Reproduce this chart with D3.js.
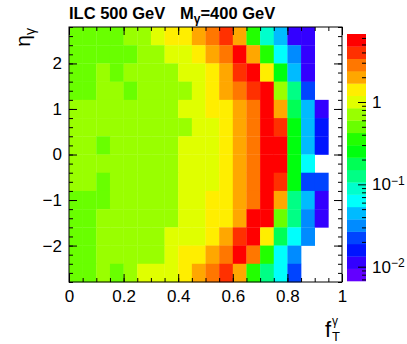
<!DOCTYPE html>
<html>
<head>
<meta charset="utf-8">
<script src="https://cdn.jsdelivr.net/npm/d3@7"></script>
<style>
	body { margin: 0; background: #fff; }
	svg { display: block; }
</style>
</head>
<body>
<div id="chart"></div>
<script>

// bin lower edges: 20 bins in f_T, 14 bins in eta (top row first)
var fTBins = [0, 0.05, 0.1, 0.15, 0.2, 0.25, 0.3, 0.35, 0.4, 0.45, 0.5, 0.55, 0.6, 0.65, 0.7, 0.75, 0.8, 0.85, 0.9, 0.95];
var fTWidth = 0.05;
var etaBins = [2.4, 2.0, 1.6, 1.2, 0.8, 0.4, 0, -0.4, -0.8, -1.2, -1.6, -2.0, -2.4, -2.8];
var etaWidth = 0.4;

// bin contents (0 = empty bin)
var counts = [
	[0.5, 0.5, 0.5, 0.5, 0.71, 0.71, 1.0, 1.4, 1.4, 2.0, 2.8, 4.0, 2.0, 0.36, 0.089, 0.045, 0.011, 0.011, 0, 0],
	[0.5, 0.5, 0.5, 0.5, 0.5, 0.71, 0.71, 1.0, 1.0, 1.4, 2.0, 2.8, 5.6, 2.0, 0.36, 0.063, 0.032, 0.011, 0, 0],
	[0.5, 0.5, 0.71, 0.5, 0.71, 0.71, 0.71, 0.71, 1.0, 1.0, 1.4, 2.0, 4.0, 5.6, 1.4, 0.25, 0.045, 0.011, 0, 0],
	[0.5, 0.5, 0.71, 0.71, 0.5, 0.71, 0.71, 0.71, 0.71, 1.0, 1.4, 2.0, 2.8, 4.0, 5.6, 0.71, 0.13, 0.022, 0, 0],
	[0.71, 0.71, 0.71, 0.71, 0.71, 0.71, 0.71, 0.71, 1.0, 1.0, 1.4, 1.4, 2.0, 2.8, 5.6, 2.0, 0.18, 0.045, 0.011, 0],
	[0.71, 0.71, 0.71, 0.71, 0.71, 0.71, 0.71, 0.71, 0.71, 1.0, 1.0, 1.4, 2.0, 2.8, 5.6, 4.0, 0.25, 0.045, 0.016, 0],
	[0.71, 0.71, 0.5, 0.71, 0.71, 0.71, 0.71, 0.71, 1.0, 1.0, 1.0, 1.4, 2.0, 2.8, 5.6, 5.6, 0.25, 0.045, 0.016, 0],
	[0.71, 0.71, 0.71, 0.71, 0.71, 0.71, 0.71, 0.71, 1.0, 1.0, 1.0, 1.4, 2.0, 2.8, 5.6, 5.6, 0.25, 0.063, 0, 0],
	[0.71, 0.71, 0.5, 0.71, 0.71, 0.71, 0.71, 0.71, 1.0, 1.0, 1.0, 1.4, 2.0, 2.8, 5.6, 4.0, 0.25, 0.022, 0.022, 0],
	[0.5, 0.5, 0.5, 0.71, 0.71, 0.71, 0.71, 0.71, 1.0, 1.0, 1.4, 1.4, 2.0, 2.8, 5.6, 2.0, 0.13, 0.045, 0.011, 0],
	[0.5, 0.5, 0.71, 0.71, 0.71, 0.71, 0.71, 0.71, 1.0, 1.0, 1.4, 1.4, 2.0, 5.6, 5.6, 0.5, 0.13, 0.032, 0.011, 0],
	[0.5, 0.5, 0.71, 0.71, 0.71, 0.71, 0.71, 1.0, 1.0, 1.0, 1.4, 2.0, 4.0, 5.6, 1.4, 0.18, 0.063, 0.032, 0, 0],
	[0.5, 0.5, 0.71, 0.71, 0.71, 0.71, 0.71, 1.0, 1.4, 1.4, 2.0, 2.8, 5.6, 2.8, 0.36, 0.063, 0.032, 0, 0, 0],
	[0.5, 0.5, 0.71, 0.5, 0.71, 1.0, 1.0, 1.0, 1.4, 2.0, 2.8, 4.0, 2.0, 0.36, 0.13, 0.063, 0.022, 0, 0, 0]
];

// axis ticks
var xTicks = [0, 0.2, 0.4, 0.6, 0.8, 1];
var yTicks = [-2, -1, 0, 1, 2];
var zTicks = [0.01, 0.1, 1];
var zLabels = [["10", "\u22122"], ["10", "\u22121"], ["1", ""]];
var zMin = 0.0067, zMax = 6.7;

var font = "'Liberation Sans', Arial, Helvetica, sans-serif";
var W = 407, H = 344;
var frame = { left: 69, right: 342, top: 27, bottom: 282 };
var zBar = { left: 347, right: 366, top: 34, bottom: 281 };
var nContours = 20;

var svg = d3.select("#chart").append("svg")
	.attr("width", W)
	.attr("height", H)
	.style("background", "#fff");

var x = d3.scaleLinear().domain([0, 1]).range([frame.left, frame.right]);
var y = d3.scaleLinear().domain([-2.8, 2.8]).range([frame.bottom, frame.top]);
var z = d3.scaleLog().domain([zMin, zMax]).range([zBar.bottom, zBar.top]);

// ROOT "pretty" palette (violet -> red), 20 contour levels
var palette = d3.range(nContours).map(function(k){
	var idx = Math.floor((k + 0.99) * 50 / nContours);
	return d3.hsl(280 - (idx + 1) * 5.6, 1, 0.5).toString();
});
var lzMin = Math.log10(zMin), lzMax = Math.log10(zMax);
var colour = d3.scaleQuantize().domain([lzMin, lzMax]).range(palette);

// cells
var cells = [];
counts.forEach(function(row, r){
	row.forEach(function(v, c){
		if(v > 0) cells.push({ fT: fTBins[c], eta: etaBins[r], v: v });
	});
});

svg.append("g").selectAll("rect")
	.data(cells)
	.enter().append("rect")
	.attr("x", function(d){ return x(d.fT); })
	.attr("y", function(d){ return y(d.eta + etaWidth); })
	.attr("width", function(d){ return x(d.fT + fTWidth) - x(d.fT) + 0.3; })
	.attr("height", function(d){ return y(d.eta) - y(d.eta + etaWidth) + 0.3; })
	.attr("fill", function(d){ return colour(Math.log10(d.v)); });

// axes, ticks inside the frame
function styleAxis(g){
	g.select(".domain").remove();
	g.selectAll("line").attr("stroke", "#000");
	g.attr("font-family", font).attr("font-size", 17);
	g.selectAll("text").attr("fill", "#000");
}

var xMinor = d3.range(21).map(function(i){ return i * 0.05; });
var yMinor = d3.range(-14, 15).map(function(i){ return i * 0.2; });

svg.append("g").attr("transform", "translate(0," + frame.bottom + ")")
	.call(d3.axisBottom(x).tickValues(xMinor).tickSize(-4).tickFormat(""))
	.call(styleAxis);
svg.append("g").attr("transform", "translate(0," + frame.bottom + ")")
	.call(d3.axisBottom(x).tickValues(xTicks).tickSize(-8).tickPadding(8).tickFormat(d3.format("~g")))
	.call(styleAxis);
svg.append("g").attr("transform", "translate(0," + frame.top + ")")
	.call(d3.axisTop(x).tickValues(xMinor).tickSize(-4).tickFormat(""))
	.call(styleAxis);
svg.append("g").attr("transform", "translate(0," + frame.top + ")")
	.call(d3.axisTop(x).tickValues(xTicks).tickSize(-8).tickFormat(""))
	.call(styleAxis);

svg.append("g").attr("transform", "translate(" + frame.left + ",0)")
	.call(d3.axisLeft(y).tickValues(yMinor).tickSize(-4).tickFormat(""))
	.call(styleAxis);
svg.append("g").attr("transform", "translate(" + frame.left + ",0)")
	.call(d3.axisLeft(y).tickValues(yTicks).tickSize(-8).tickPadding(7).tickFormat(d3.format("~g")))
	.call(styleAxis);
svg.append("g").attr("transform", "translate(" + frame.right + ",0)")
	.call(d3.axisRight(y).tickValues(yMinor).tickSize(-4).tickFormat(""))
	.call(styleAxis);
svg.append("g").attr("transform", "translate(" + frame.right + ",0)")
	.call(d3.axisRight(y).tickValues(yTicks).tickSize(-8).tickFormat(""))
	.call(styleAxis);

// frame
svg.append("rect")
	.attr("x", frame.left)
	.attr("y", frame.top)
	.attr("width", frame.right - frame.left)
	.attr("height", frame.bottom - frame.top)
	.attr("fill", "none")
	.attr("stroke", "#000")
	.attr("stroke-width", 1);

// colour bar
var step = (lzMax - lzMin) / nContours;
svg.append("g").selectAll("rect")
	.data(d3.range(nContours))
	.enter().append("rect")
	.attr("x", zBar.left)
	.attr("y", function(k){ return z(Math.pow(10, lzMin + (k + 1) * step)); })
	.attr("width", zBar.right - zBar.left)
	.attr("height", function(k){ return z(Math.pow(10, lzMin + k * step)) - z(Math.pow(10, lzMin + (k + 1) * step)) + 0.3; })
	.attr("fill", function(k){ return palette[k]; });

var zMinor = z.ticks().filter(function(t){ return zTicks.indexOf(t) < 0; });
svg.append("g").attr("transform", "translate(" + zBar.right + ",0)")
	.call(d3.axisRight(z).tickValues(zMinor).tickSize(-4).tickFormat(""))
	.call(styleAxis);
svg.append("g").attr("transform", "translate(" + zBar.right + ",0)")
	.call(d3.axisRight(z).tickValues(zTicks).tickSize(-8).tickFormat(""))
	.call(styleAxis);

var zText = svg.append("g").selectAll("text")
	.data(zTicks)
	.enter().append("text")
	.attr("x", zBar.right + 6)
	.attr("y", function(d){ return z(d); })
	.attr("dy", "0.36em")
	.attr("font-family", font)
	.attr("font-size", 17);
zText.append("tspan").text(function(d, i){ return zLabels[i][0]; });
zText.append("tspan")
	.attr("dy", "-0.45em")
	.attr("font-size", 12)
	.text(function(d, i){ return zLabels[i][1]; });

// header
var title = svg.append("text")
	.attr("x", frame.left)
	.attr("y", 19)
	.attr("font-family", font)
	.attr("font-weight", "bold")
	.attr("font-size", 16.5);
title.append("tspan").text("ILC 500 GeV");
title.append("tspan").attr("x", 180).text("M");
title.append("tspan").attr("dy", 4).attr("font-size", 12).text("\u03b3");
title.append("tspan").attr("dy", -4).text("=400 GeV");

// y title, rotated and pushed to the top end
var yTitle = svg.append("text")
	.attr("transform", "translate(30," + (frame.top + 1) + ") rotate(-90)")
	.attr("text-anchor", "end")
	.attr("font-family", font)
	.attr("font-size", 21);
yTitle.append("tspan").text("\u03b7");
yTitle.append("tspan").attr("dy", 5).attr("font-size", 14).text("\u03b3");

// x title f_T^gamma
var xTitle = svg.append("g");
xTitle.append("text")
	.attr("x", 325)
	.attr("y", 337)
	.attr("font-family", font)
	.attr("font-size", 22)
	.text("f");
xTitle.append("text")
	.attr("x", 332)
	.attr("y", 341)
	.attr("font-family", font)
	.attr("font-size", 13)
	.text("T");
xTitle.append("text")
	.attr("x", 332)
	.attr("y", 325)
	.attr("font-family", font)
	.attr("font-size", 12)
	.text("\u03b3");

</script>
</body>
</html>
